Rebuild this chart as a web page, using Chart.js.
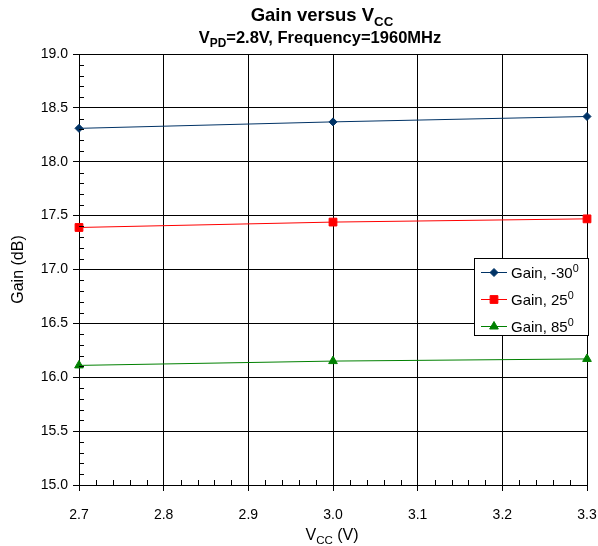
<!DOCTYPE html>
<html>
<head>
<meta charset="utf-8">
<script src="https://cdn.jsdelivr.net/npm/chart.js@4/dist/chart.umd.min.js"></script>
<style>
    html, body { margin: 0; padding: 0; background: #fff; }
</style>
</head>
<body>
<canvas id="gainChart" width="598" height="546"></canvas>
<script>
// Chart data
const vccValues = [2.7, 3.0, 3.3];
const gainMinus30 = [18.31, 18.37, 18.42];
const gain25 = [17.39, 17.44, 17.47];
const gain85 = [16.11, 16.15, 16.17];
const seriesLabels = ['Gain, -30', 'Gain, 25', 'Gain, 85'];
const seriesColors = ['#003366', '#ff0000', '#008000'];
const seriesMarkers = ['rectRot', 'rect', 'triangle'];
const markerSizes = [4, 5.5, 5];

const FONT = 'Liberation Sans, Arial, sans-serif';

function toPoints(ys) {
    return ys.map((y, i) => ({ x: vccValues[i], y: y }));
}

// Draw text made of parts, some of them sub/superscript
function drawRich(ctx, parts, x, y, size, bold, align) {
    const weight = bold ? 'bold ' : '';
    let total = 0;
    parts.forEach(p => {
        const s = p.sub || p.sup ? size * 0.72 : size;
        ctx.font = weight + s + 'px ' + FONT;
        p.w = ctx.measureText(p.t).width;
        total += p.w;
    });
    let cx = align === 'center' ? x - total / 2 : x;
    ctx.textAlign = 'left';
    ctx.textBaseline = 'alphabetic';
    ctx.fillStyle = '#000';
    parts.forEach(p => {
        const s = p.sub || p.sup ? size * 0.72 : size;
        ctx.font = weight + s + 'px ' + FONT;
        let dy = 0;
        if (p.sub) dy = size * 0.25;
        if (p.sup) dy = -size * 0.36;
        ctx.fillText(p.t, cx, y + dy);
        cx += p.w;
    });
}

const decorPlugin = {
    id: 'decor',
    afterDraw(chart) {
        const { ctx, chartArea, scales } = chart;
        const xs = scales.x, ys = scales.y;
        ctx.save();

        // inward minor ticks
        ctx.strokeStyle = '#000';
        ctx.lineWidth = 1;
        ctx.beginPath();
        for (let i = 1; i < 30; i++) {
            if (i % 5 === 0) continue;
            const px = Math.round(xs.getPixelForValue(2.7 + i * 0.02)) + 0.5;
            ctx.moveTo(px, chartArea.bottom);
            ctx.lineTo(px, chartArea.bottom - 5);
        }
        for (let i = 1; i < 40; i++) {
            if (i % 5 === 0) continue;
            const py = Math.round(ys.getPixelForValue(15 + i * 0.1)) + 0.5;
            ctx.moveTo(chartArea.left, py);
            ctx.lineTo(chartArea.left + 5, py);
        }
        ctx.stroke();

        // titles
        drawRich(ctx, [{ t: 'Gain versus V' }, { t: 'CC', sub: true }], 322, 21, 18.5, true, 'center');
        drawRich(ctx, [{ t: 'V' }, { t: 'PD', sub: true }, { t: '=2.8V, Frequency=1960MHz' }], 320, 43, 16.5, true, 'center');
        drawRich(ctx, [{ t: 'V' }, { t: 'CC', sub: true }, { t: ' (V)' }], 332, 540, 16, false, 'center');

        // legend box
        const lx = 474.5, ly = 258.5, lw = 114, lh = 77;
        ctx.fillStyle = '#fff';
        ctx.fillRect(lx, ly, lw, lh);
        ctx.strokeStyle = '#000';
        ctx.strokeRect(lx, ly, lw, lh);
        const rowY = [272, 299, 326];
        seriesLabels.forEach((label, i) => {
            const yy = rowY[i] + 0.5;
            ctx.strokeStyle = seriesColors[i];
            ctx.lineWidth = 1;
            ctx.beginPath();
            ctx.moveTo(481, yy);
            ctx.lineTo(507, yy);
            ctx.stroke();
            ctx.fillStyle = seriesColors[i];
            ctx.strokeStyle = seriesColors[i];
            Chart.helpers.drawPoint(ctx, { pointStyle: seriesMarkers[i], radius: markerSizes[i], rotation: 0, borderWidth: 1 }, 494, yy);
            drawRich(ctx, [{ t: label }, { t: '0', sup: true }], 511, rowY[i] + 5.5, 15, false, 'left');
        });
        ctx.restore();
    }
};

new Chart(document.getElementById('gainChart').getContext('2d'), {
    type: 'line',
    data: {
        datasets: seriesLabels.map((label, i) => ({
            label: label,
            data: toPoints([gainMinus30, gain25, gain85][i]),
            borderColor: seriesColors[i],
            backgroundColor: seriesColors[i],
            borderWidth: 1,
            pointStyle: seriesMarkers[i],
            pointRadius: markerSizes[i],
            pointBorderWidth: 1,
            tension: 0,
            clip: false
        }))
    },
    options: {
        responsive: false,
        animation: false,
        layout: { padding: { top: 54, right: 11, left: 0, bottom: 0 } },
        plugins: {
            legend: { display: false },
            tooltip: { enabled: false }
        },
        scales: {
            x: {
                type: 'linear',
                min: 2.7,
                max: 3.3,
                afterFit(scale) {
                    scale.height = 61;
                    scale.paddingLeft = 0;
                    scale.paddingRight = 0;
                },
                ticks: {
                    stepSize: 0.1,
                    color: '#000',
                    padding: 16,
                    font: { family: FONT, size: 14 },
                    callback: v => Number(v).toFixed(1)
                },
                grid: { color: '#000', lineWidth: 1, tickLength: 6, tickColor: '#000' },
                border: { color: '#000' }
            },
            y: {
                min: 15,
                max: 19,
                afterFit(scale) {
                    scale.width = 79;
                    scale.paddingTop = 0;
                    scale.paddingBottom = 0;
                },
                ticks: {
                    stepSize: 0.5,
                    color: '#000',
                    padding: 5,
                    font: { family: FONT, size: 14 },
                    callback: v => Number(v).toFixed(1)
                },
                grid: { color: '#000', lineWidth: 1, tickLength: 6, tickColor: '#000' },
                border: { color: '#000' },
                title: {
                    display: true,
                    text: 'Gain (dB)',
                    color: '#000',
                    font: { family: FONT, size: 16 },
                    padding: { top: 9, bottom: 0 }
                }
            }
        }
    },
    plugins: [decorPlugin]
});
</script>
</body>
</html>
